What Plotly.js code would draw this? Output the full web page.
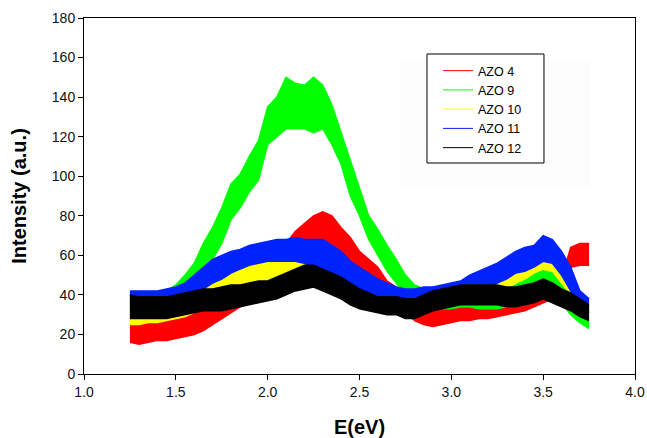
<!DOCTYPE html>
<html>
<head>
<meta charset="utf-8">
<script src="https://cdn.plot.ly/plotly-3.0.1.min.js"></script>
<style>html,body{margin:0;padding:0;background:#fff;}#chart{width:647px;height:438px;}</style>
</head>
<body>
<div id="chart"></div>
<script>
// Photon energy grid (eV)
var energy = [1.25,1.30,1.35,1.40,1.45,1.50,1.55,1.60,1.65,1.70,1.75,1.80,1.85,1.90,1.95,2.00,2.05,2.10,2.15,2.20,2.25,2.30,2.35,2.40,2.45,2.50,2.55,2.60,2.65,2.70,2.75,2.80,2.85,2.90,2.95,3.00,3.05,3.10,3.15,3.20,3.25,3.30,3.35,3.40,3.45,3.50,3.55,3.60,3.65,3.70,3.75];

// Lower / upper edges of each noisy band (a.u.)
var azo4Low  = [16,15,16,17,17,18,19,20,22,25,28,31,34,37,40,42,45,52,56,60,63,65,62,58,54,48,44,40,37,34,31,27,25,24,25,26,27,27,28,28,29,30,31,32,34,36,38,36,54,55,55];
var azo4High = [30,28,28,29,29,30,31,32,34,37,40,43,46,50,53,55,58,66,72,76,80,82,80,74,69,62,58,54,47,44,40,36,35,34,34,35,36,37,37,38,38,40,41,42,45,48,50,48,64,66,66];

var azo9Low  = [30,31,31,32,33,35,38,42,50,58,66,78,84,92,98,116,120,124,124,124,122,124,116,106,90,80,68,60,52,46,40,37,35,34,33,33,34,34,33,33,33,34,35,37,40,42,40,36,30,26,23];
var azo9High = [40,40,40,41,42,45,50,56,66,74,84,96,101,110,118,135,140,150,147,146,150,146,136,122,108,94,80,73,65,58,50,45,43,42,42,42,40,41,41,41,42,43,45,48,52,55,52,46,40,34,31];

var azo10Low  = [25,25,26,26,27,28,29,31,34,38,41,43,44,45,46,46,47,47,47,46,46,45,43,41,39,37,36,35,34,34,33,33,33,34,35,36,37,38,39,40,42,44,46,48,51,53,52,46,40,33,30];
var azo10High = [36,36,36,37,37,38,39,41,44,48,51,53,54,56,57,57,58,58,58,57,56,55,53,51,49,46,44,42,41,40,40,40,41,41,42,43,44,46,48,50,52,55,57,59,61,63,62,57,50,40,36];

var azo11Low  = [32,32,32,33,33,34,36,40,43,46,48,51,53,55,56,57,57,57,57,56,54,53,51,48,44,42,40,38,36,36,36,35,36,36,37,37,38,40,42,44,46,48,51,52,54,57,56,50,42,33,31];
var azo11High = [42,42,42,42,43,44,46,50,54,58,60,62,63,65,66,67,68,68,69,68,68,68,65,62,57,54,51,48,46,44,43,43,44,44,45,46,47,50,52,54,56,59,62,64,65,70,68,62,54,42,38];

var azo12Low  = [28,28,28,28,28,29,30,31,32,32,32,33,34,35,36,37,38,40,42,43,44,42,40,38,35,33,32,31,30,30,28,28,30,32,33,34,35,35,35,35,35,34,34,35,36,38,36,34,32,29,27];
var azo12High = [40,39,39,39,39,40,41,42,43,43,44,45,45,46,47,47,49,51,53,55,55,53,51,49,46,43,41,39,39,39,38,38,40,42,43,44,45,45,45,45,45,44,44,45,46,48,46,43,41,38,35];

var seriesNames  = ['AZO 4','AZO 9','AZO 10','AZO 11','AZO 12'];
var seriesColors = ['#ff0000','#00ff00','#ffff00','#0022ff','#000000'];
var seriesLow  = [azo4Low, azo9Low, azo10Low, azo11Low, azo12Low];
var seriesHigh = [azo4High, azo9High, azo10High, azo11High, azo12High];

var traces = [];
var i;
for (i = 0; i < seriesNames.length; i++) {
  traces.push({
    x: energy, y: seriesHigh[i], type: 'scatter', mode: 'lines',
    name: seriesNames[i], showlegend: false,
    line: {color: seriesColors[i], width: 1.5}, hoverinfo: 'skip'
  });
  traces.push({
    x: energy, y: seriesLow[i], type: 'scatter', mode: 'lines',
    name: seriesNames[i], showlegend: false,
    fill: 'tonexty', fillcolor: seriesColors[i],
    line: {color: seriesColors[i], width: 1.5}, hoverinfo: 'skip'
  });
}
// legend entries only (no drawn data)
for (i = 0; i < seriesNames.length; i++) {
  traces.push({
    x: [null], y: [null], type: 'scatter', mode: 'lines',
    name: seriesNames[i], showlegend: true,
    line: {color: seriesColors[i], width: 1}, hoverinfo: 'skip'
  });
}

var axisFont = {family: 'Liberation Sans, Arial, sans-serif', size: 14, color: '#111'};
var layout = {
  width: 647, height: 438,
  margin: {l: 84, r: 12, t: 18, b: 64},
  paper_bgcolor: '#ffffff', plot_bgcolor: 'rgba(0,0,0,0)',
  showlegend: true,
  xaxis: {
    range: [1, 4], dtick: 0.5, tick0: 1, tickformat: '.1f',
    ticks: 'outside', ticklen: 5, tickwidth: 1, tickcolor: '#000',
    showline: true, linecolor: '#000', linewidth: 1, mirror: true,
    showgrid: false, zeroline: false, tickfont: axisFont,
    title: {text: 'E(eV)', font: {family: 'Liberation Sans, Arial, sans-serif', size: 20, color: '#000', weight: 'bold'}, standoff: 21}
  },
  yaxis: {
    range: [0, 180], dtick: 20, tick0: 0,
    ticks: 'outside', ticklen: 5, tickwidth: 1, tickcolor: '#000',
    showline: true, linecolor: '#000', linewidth: 1, mirror: true,
    showgrid: false, zeroline: false, tickfont: axisFont,
    title: {text: 'Intensity (a.u.)', font: {family: 'Liberation Sans, Arial, sans-serif', size: 20, color: '#000', weight: 'bold'}, standoff: 19}
  },
  legend: {
    x: 0.6425, y: 0.8932, xanchor: 'left', yanchor: 'top', traceorder: 'normal',
    bgcolor: 'rgba(0,0,0,0)', borderwidth: 0,
    font: {family: 'Liberation Sans, Arial, sans-serif', size: 12.5, color: '#000'}
  },
  shapes: [
    {type: 'rect', xref: 'paper', yref: 'paper', x0: 0.5735, x1: 0.9183, y0: 0.5253, y1: 0.882,
     fillcolor: '#fcfcfc', line: {width: 0}, layer: 'below'},
    {type: 'rect', xref: 'paper', yref: 'paper', x0: 0.6225, x1: 0.8348, y0: 0.5927, y1: 0.8989,
     fillcolor: '#ffffff', line: {color: '#000', width: 1}, layer: 'above'}
  ]
};

Plotly.newPlot('chart', traces, layout, {displayModeBar: false, staticPlot: true});
</script>
</body>
</html>
